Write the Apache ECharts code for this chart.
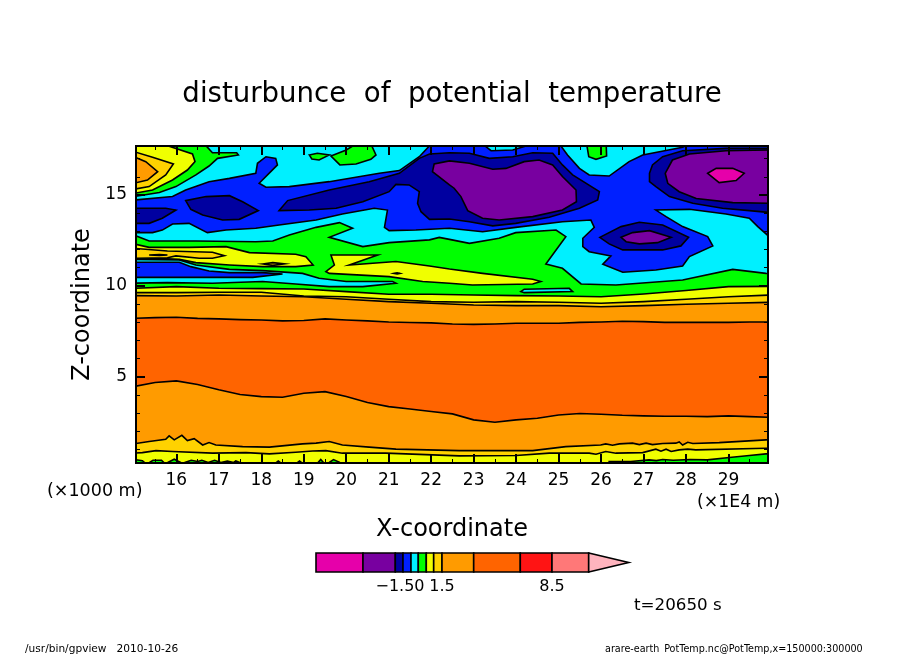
<!DOCTYPE html>
<html>
<head>
<meta charset="utf-8">
<title>disturbunce of potential temperature</title>
<style>
  html, body { margin: 0; padding: 0; background: #fff; }
  #chart { width: 904px; height: 654px; }
</style>
<script src="https://cdn.jsdelivr.net/npm/echarts@6/dist/echarts.min.js"></script>
</head>
<body>
<div id="chart"></div>
<script>
// axis ticks
var xMajor = [16, 17, 18, 19, 20, 21, 22, 23, 24, 25, 26, 27, 28, 29];
var xMinor = [15.5, 16.5, 17.5, 18.5, 19.5, 20.5, 21.5, 22.5, 23.5, 24.5, 25.5, 26.5, 27.5, 28.5, 29.5];
var zMajor = [5, 10, 15];
var zMinor = [1, 2, 3, 4, 6, 7, 8, 9, 11, 12, 13, 14, 16, 17];

// tone colours, low to high
var MAGENTA = '#e600aa', PURPLE = '#7800a0', NAVY = '#0000a0', BLUE = '#0020ff', CYAN = '#00f0ff', GREEN = '#00ff00';
var YELLOW = '#f0ff00', GOLD = '#ffd200', ORANGE = '#ff9b00', DEEP = '#ff6400', RED = '#ff1414', SALMON = '#ff7878', PINK = '#ffb4be';

// contour lines that cross the whole domain, z read at each x
var xWhole = [15, 16, 17, 18, 19, 20, 21, 22, 23, 24, 25, 26, 27, 28, 29, 30];
var yellowTop = [9.87, 9.96, 9.87, 9.85, 9.83, 9.69, 9.54, 9.54, 9.5, 9.47, 9.45, 9.41, 9.56, 9.75, 9.96, 9.98];
var goldTop = [9.63, 9.63, 9.65, 9.65, 9.45, 9.41, 9.27, 9.14, 9.1, 9.14, 9.1, 9.05, 9.14, 9.27, 9.41, 9.5];
var orangeTop = [9.47, 9.45, 9.5, 9.45, 9.41, 9.27, 9.14, 9.05, 8.95, 8.92, 8.92, 8.86, 8.92, 8.99, 9.05, 9.1];

var xHalf = [15, 15.5, 16, 16.5, 17, 17.5, 18, 18.5, 19, 19.5, 20, 20.5, 21, 21.5, 22, 22.5, 23, 23.5, 24, 24.5, 25, 25.5, 26, 26.5, 27, 27.5, 28, 28.5, 29, 29.5, 30];
var deepTop = [8.22, 8.26, 8.28, 8.22, 8.19, 8.15, 8.13, 8.08, 8.1, 8.19, 8.13, 8.08, 8.02, 7.99, 7.97, 7.91, 7.89, 7.91, 7.95, 7.95, 7.95, 8, 8.02, 8.06, 8.04, 8, 8, 8, 8, 8.02, 8.02];
var deepBottom = [4.47, 4.69, 4.78, 4.58, 4.29, 4.03, 3.92, 3.88, 4.1, 4.19, 3.92, 3.59, 3.37, 3.24, 3.1, 2.97, 2.64, 2.51, 2.64, 2.73, 2.91, 2.99, 2.95, 2.89, 2.86, 2.84, 2.84, 2.82, 2.86, 2.82, 2.78];

var orangeBottom = [[15, 1.32], [15.36, 1.45], [15.75, 1.57], [15.83, 1.76], [15.95, 1.54], [16.13, 1.79], [16.26, 1.5], [16.42, 1.61], [16.62, 1.26], [16.77, 1.39], [16.93, 1.26], [17.56, 1.17], [18.19, 1.14], [18.97, 1.32], [19.29, 1.36], [19.6, 1.45], [19.91, 1.26], [20.54, 1.14], [21.17, 1.03], [22.66, 0.95], [24.39, 0.95], [25.17, 1.17], [25.99, 1.26], [26.11, 1.32], [26.27, 1.25], [26.43, 1.32], [26.74, 1.36], [26.9, 1.28], [27.06, 1.36], [27.21, 1.28], [27.45, 1.34], [27.76, 1.36], [27.84, 1.43], [27.92, 1.26], [28.04, 1.41], [28.16, 1.34], [28.78, 1.39], [29.88, 1.54], [30, 1.55]];
var goldBottom = [[15, 0.81], [15.2, 0.84], [15.52, 0.95], [15.91, 0.9], [16.85, 0.81], [17.64, 0.84], [18.19, 0.77], [18.81, 0.86], [19.21, 0.93], [19.52, 0.95], [19.91, 0.81], [20.93, 0.81], [22.66, 0.66], [24, 0.68], [24.78, 0.81], [25.72, 0.81], [25.88, 0.75], [26.11, 0.9], [26.35, 0.81], [26.98, 0.84], [27.29, 1.03], [27.41, 0.92], [27.53, 1.03], [27.65, 0.9], [27.84, 0.99], [28.04, 1.03], [28.23, 0.99], [29.88, 1.08], [30, 1.08]];
var greenBottom = [[15, 0.2], [15.05, 0.45], [15.2, 0.4], [15.3, 0.2], [15.3, 0.2], [15.45, 0.42], [15.65, 0.42], [15.75, 0.2], [15.8, 0.3], [15.95, 0.48], [16.1, 0.3], [16.15, 0.2], [16.2, 0.3], [16.35, 0.42], [16.5, 0.35], [16.6, 0.42], [16.75, 0.3], [16.9, 0.42], [17.05, 0.3], [17.2, 0.38], [17.35, 0.3], [17.4, 0.38], [17.6, 0.2], [18.3, 0.2], [18.4, 0.38], [18.5, 0.2], [18.8, 0.2], [18.9, 0.38], [19, 0.2], [19.3, 0.2], [19.4, 0.46], [19.5, 0.2], [19.6, 0.3], [19.7, 0.46], [19.85, 0.3], [20, 0.2], [26.19, 0.2], [26.19, 0.35], [26.7, 0.35], [27.13, 0.44], [27.3, 0.4], [27.45, 0.46], [27.7, 0.42], [28.1, 0.46], [28.5, 0.44], [29.02, 0.57], [29.49, 0.68], [29.88, 0.77], [30, 0.77], [30, 0.2]];

// closed contours in the upper part, x then z
var blueMain = [[15, 14.72], [15.91, 14.91], [16.22, 15.27], [16.77, 15.73], [17.25, 15.91], [17.87, 16.19], [17.91, 16.74], [18.11, 17.1], [18.34, 17.01], [18.38, 16.65], [17.95, 15.64], [18.11, 15.42], [18.66, 15.46], [19.6, 15.73], [20.78, 16.19], [21.25, 16.34], [21.72, 17.1], [22, 17.8], [23.21, 17.8], [23.41, 17.43], [23.92, 17.47], [24.39, 17.8], [25.02, 17.8], [25.21, 17.2], [25.49, 16.46], [25.72, 16.1], [26.19, 16.04], [26.66, 16.83], [26.98, 17.2], [27.92, 17.62], [28.08, 17.8], [30, 17.8], [30, 12.62], [29.69, 13.26], [29.49, 13.72], [28.94, 13.95], [28.08, 14.21], [27.29, 14.17], [27.53, 13.81], [27.92, 13.26], [28.51, 12.71], [28.63, 12.2], [28.08, 11.61], [27.92, 11.1], [27.29, 10.88], [26.51, 10.75], [26.04, 11.19], [26.23, 11.65], [25.72, 11.88], [25.57, 12.16], [25.57, 12.62], [25.84, 13.22], [25.76, 13.62], [25.09, 13.53], [23.99, 13.22], [23.21, 12.98], [22.43, 13.17], [21.64, 13.07], [21.01, 13.04], [20.9, 13.22], [20.97, 14.17], [20.66, 14.27], [19.91, 13.95], [19.29, 13.62], [18.42, 13.35], [17.87, 13.17], [17.17, 13.07], [16.73, 12.93], [16.3, 13.44], [15.91, 13.4], [15.67, 13.07], [15.44, 12.93], [15, 12.93]];
var navyLeft = [[15, 14.27], [15.75, 14.27], [15.99, 14.17], [15.67, 13.72], [15.36, 13.44], [15, 13.44]];
var navyLens = [[16.22, 14.69], [16.7, 14.91], [17.25, 14.96], [17.56, 14.63], [17.93, 14.14], [17.48, 13.66], [17.09, 13.62], [16.62, 13.9], [16.34, 14.21]];
var navyMain = [[18.42, 14.14], [18.62, 14.69], [19.6, 15.27], [20.54, 15.73], [21.25, 16.19], [21.72, 17.01], [21.96, 17.25], [22.43, 17.32], [22.9, 17.29], [23.37, 17.01], [23.92, 17.1], [24.39, 17.32], [24.86, 17.29], [25.09, 16.65], [25.33, 16.1], [25.96, 15.18], [25.92, 14.72], [25.49, 14.27], [24.78, 13.77], [23.99, 13.44], [23.45, 13.3], [22.9, 13.53], [22.43, 13.68], [21.96, 13.66], [21.76, 14.08], [21.68, 14.54], [21.72, 15.18], [21.48, 15.55], [21.17, 15.58], [21.01, 15.18], [20.39, 14.63], [19.76, 14.27], [19.13, 14.17]];
var purpleMain = [[22.03, 16.28], [22.07, 16.7], [22.43, 16.87], [22.9, 16.74], [23.45, 16.41], [23.76, 16.46], [24.19, 16.83], [24.54, 16.92], [24.86, 16.65], [25.09, 16.01], [25.41, 15.27], [25.42, 14.63], [25.09, 14.17], [24.39, 13.81], [23.6, 13.62], [23.21, 13.72], [22.86, 14.14], [22.7, 14.91], [22.54, 15.37], [22.43, 15.55]];
var navyRight = [[27.14, 16.19], [27.21, 16.65], [27.45, 17.1], [27.92, 17.43], [28.94, 17.56], [30, 17.56], [30, 14.03], [29.49, 14.14], [28.86, 14.27], [28.16, 14.54], [27.61, 14.91], [27.29, 15.46], [27.14, 15.73]];
var purpleRight = [[27.51, 16.19], [27.68, 16.92], [28.08, 17.25], [28.94, 17.43], [30, 17.47], [30, 14.54], [29.1, 14.58], [28.24, 14.8], [27.84, 15.18], [27.57, 15.64]];
var magentaCore = [[28.51, 16.19], [28.71, 16.46], [29.1, 16.46], [29.37, 16.19], [29.18, 15.79], [28.78, 15.68]];
var navySmall = [[25.97, 12.67], [26.47, 13.26], [26.9, 13.5], [27.45, 13.35], [28.06, 12.67], [27.88, 12.2], [27.45, 11.98], [26.51, 11.98], [26.19, 12.31]];
var purpleSmall = [[26.47, 12.67], [26.74, 12.93], [27.14, 13.04], [27.65, 12.67], [27.33, 12.38], [26.9, 12.31], [26.59, 12.43]];

var greenCorner = [[15, 17.8], [16.66, 17.8], [16.85, 17.32], [17.42, 17.32], [17.46, 17.2], [16.97, 17.01], [16.77, 16.59], [16.46, 16.1], [15.99, 15.46], [15.6, 15.13], [15, 14.91]];
var yellowCorner = [[15, 17.8], [15.67, 17.8], [16.38, 17.25], [16.44, 16.83], [16.26, 16.37], [15.91, 15.82], [15.44, 15.27], [15, 15.09]];
var goldCorner = [[15, 17.38], [15.44, 17.07], [15.93, 16.7], [15.75, 16.1], [15.36, 15.46], [15, 15.31]];
var orangeCorner = [[15, 17.1], [15.28, 16.83], [15.56, 16.28], [15.32, 15.82], [15, 15.64]];
var greenPatchA = [[19.13, 17.2], [19.32, 17.29], [19.6, 17.2], [19.36, 16.92], [19.19, 16.98]];
var greenPatchB = [[19.64, 17.14], [20, 17.47], [20.23, 17.8], [20.58, 17.8], [20.7, 17.2], [20.58, 16.96], [20.23, 16.7], [19.85, 16.65]];
var greenPatchC = [[25.66, 17.8], [26.12, 17.8], [26.13, 17.14], [25.88, 16.96], [25.71, 17.1]];

var greenMiddle = [[15, 12.8], [15.36, 12.47], [16.46, 12.47], [17.87, 12.43], [18.27, 12.47], [18.66, 12.8], [19.29, 13.22], [19.84, 13.48], [20.15, 13.17], [19.6, 12.67], [20.39, 12.16], [21.01, 12.38], [21.96, 12.53], [22.19, 12.67], [22.43, 12.56], [22.9, 12.34], [23.6, 12.62], [23.99, 12.93], [24.94, 13.07], [25.17, 12.71], [24.94, 11.98], [24.7, 11.21], [25.09, 10.97], [25.53, 10.11], [26.35, 10.05], [27.92, 10.33], [29.1, 10.91], [29.88, 10.69], [30, 10.67], [30, 0], [15, 0]];
var yellowNose = [[15, 12.31], [15.36, 12.12], [16.3, 12.12], [17.17, 12.16], [17.72, 11.83], [18.81, 11.74], [19.05, 11.61], [19.22, 11.15], [18.81, 11.06], [18.03, 11.06], [17.25, 11.15], [16.46, 11.28], [16.07, 11.46], [15, 11.57]];
var goldNose = [[15, 12.07], [15.79, 11.92], [16.85, 11.85], [17.13, 11.66], [16.85, 11.52], [16.54, 11.52], [15.99, 11.65], [15.79, 11.55], [15, 11.52]];
var yellowRight = [[19.64, 11.7], [20.74, 11.7], [20.07, 11.15], [21.17, 11.34], [21.96, 11.1], [22.43, 10.93], [23.21, 10.69], [24.39, 10.37], [24.58, 10.24], [24.39, 10.11], [22.97, 10.05], [22.43, 10.15], [21.8, 10.24], [21.01, 10.51], [19.6, 10.69], [19.52, 10.79], [19.72, 11.15]];
var goldSpeckA = [[18.03, 11.21], [18.27, 11.28], [18.54, 11.21], [18.27, 11.13]];
var goldSpeckB = [[21.13, 10.69], [21.2, 10.72], [21.26, 10.69], [21.2, 10.66]];
var goldSpeckC = [[15.36, 11.7], [15.6, 11.73], [15.79, 11.7], [15.6, 11.67]];
var cyanSliver = [[24.11, 9.69], [24.19, 9.82], [25.25, 9.87], [25.33, 9.69], [24.19, 9.63]];
var cyanTongue = [[15, 11.46], [16.07, 11.43], [16.46, 11.15], [17.25, 10.91], [18.03, 10.84], [18.97, 10.69], [19.36, 10.42], [20, 10.24], [21.09, 10.24], [21.17, 10.15], [20.39, 9.96], [19.6, 9.96], [18.81, 10.11], [18.03, 10.24], [16.85, 10.15], [15.79, 10.18], [15, 10.15]];
var blueLow = [[15, 11.3], [16.07, 11.3], [16.34, 11.06], [16.77, 10.82], [17.25, 10.73], [18.03, 10.73], [18.5, 10.66], [17.8, 10.47], [15, 10.47]];

// colour bar
var barEdges = [0, 47, 79.3, 87, 95, 102.3, 110.3, 117.7, 126, 157.7, 204.3, 236, 272.7];
var barTip = 312.7;
var barColors = [MAGENTA, PURPLE, NAVY, BLUE, CYAN, GREEN, YELLOW, GOLD, ORANGE, DEEP, RED, SALMON];
var barTicks = [84, 126, 236];
var barLabels = ['−1.50', '1.5', '8.5'];

function closeBelow(xs, zs) {
  var pts = xs.map(function(x, i) {
    return [x, zs[i]];
  });
  pts.push([30, 0], [15, 0]);
  return pts;
}

function closeBelowPairs(pts) {
  return pts.concat([[30, 0], [15, 0]]);
}

// painted in this order, later ones cover earlier ones
var regions = [
  { color: CYAN, pts: [[15, 0], [30, 0], [30, 17.8], [15, 17.8]] },
  { color: BLUE, pts: blueMain },
  { color: NAVY, pts: navyLeft },
  { color: NAVY, pts: navyLens },
  { color: NAVY, pts: navyMain },
  { color: PURPLE, pts: purpleMain },
  { color: NAVY, pts: navyRight },
  { color: PURPLE, pts: purpleRight },
  { color: MAGENTA, pts: magentaCore },
  { color: NAVY, pts: navySmall },
  { color: PURPLE, pts: purpleSmall },
  { color: GREEN, pts: greenCorner },
  { color: YELLOW, pts: yellowCorner },
  { color: GOLD, pts: goldCorner },
  { color: ORANGE, pts: orangeCorner },
  { color: GREEN, pts: greenPatchA },
  { color: GREEN, pts: greenPatchB },
  { color: GREEN, pts: greenPatchC },
  { color: GREEN, pts: greenMiddle },
  { color: YELLOW, pts: yellowNose },
  { color: GOLD, pts: goldNose },
  { color: GOLD, pts: goldSpeckC },
  { color: YELLOW, pts: yellowRight },
  { color: GOLD, pts: goldSpeckA },
  { color: GOLD, pts: goldSpeckB },
  { color: CYAN, pts: cyanSliver },
  { color: CYAN, pts: cyanTongue },
  { color: BLUE, pts: blueLow },
  { color: YELLOW, pts: closeBelow(xWhole, yellowTop) },
  { color: GOLD, pts: closeBelow(xWhole, goldTop) },
  { color: ORANGE, pts: closeBelow(xWhole, orangeTop) },
  { color: DEEP, pts: closeBelow(xHalf, deepTop) },
  { color: ORANGE, pts: closeBelow(xHalf, deepBottom) },
  { color: GOLD, pts: closeBelowPairs(orangeBottom) },
  { color: YELLOW, pts: closeBelowPairs(goldBottom) },
  { color: GREEN, pts: greenBottom }
];

var FONT = '"DejaVu Sans"';

function plotAxis(position, ticks, labels, len, width, min, max, extra) {
  var axis = {
    type: 'value',
    gridIndex: 0,
    position: position,
    min: min,
    max: max,
    z: 10,
    splitLine: { show: false },
    axisLine: { show: true, onZero: false, lineStyle: { color: '#000', width: 2 } },
    axisTick: { show: true, inside: true, length: len, customValues: ticks, lineStyle: { color: '#000', width: width } },
    axisLabel: labels ? {
      show: true,
      customValues: ticks,
      margin: 9,
      color: '#000',
      fontFamily: FONT,
      fontSize: 17,
      padding: position === 'left' ? [4, 0, 0, 0] : 0
    } : { show: false }
  };
  return Object.assign(axis, extra || {});
}

var X_MIN = 15.05, X_MAX = 29.93, Z_MIN = 0.27, Z_MAX = 17.69;

var option = {
  animation: false,
  backgroundColor: '#fff',
  title: {
    text: 'disturbunce  of  potential  temperature',
    left: 'center',
    top: 76,
    textStyle: { fontFamily: FONT, fontWeight: 'normal', fontSize: 27.6, color: '#000' }
  },
  grid: [
    { left: 136, top: 146, width: 632, height: 317 },
    { left: 316, top: 553, width: 312.7, height: 19 }
  ],
  xAxis: [
    plotAxis('bottom', xMajor, true, 9, 2, X_MIN, X_MAX, {
      name: 'X-coordinate',
      nameLocation: 'middle',
      nameGap: 55,
      nameTextStyle: { fontFamily: FONT, fontSize: 24, color: '#000' }
    }),
    plotAxis('bottom', xMinor, false, 4, 1, X_MIN, X_MAX),
    plotAxis('top', xMajor, false, 9, 2, X_MIN, X_MAX),
    plotAxis('top', xMinor, false, 4, 1, X_MIN, X_MAX),
    {
      type: 'value',
      gridIndex: 1,
      min: 0,
      max: barTip,
      splitLine: { show: false },
      axisLine: { show: false },
      axisTick: { show: false },
      axisLabel: {
        customValues: barTicks,
        margin: 7,
        color: '#000',
        fontFamily: FONT,
        fontSize: 16,
        formatter: function(v) {
          return barLabels[barTicks.indexOf(v)];
        }
      }
    }
  ],
  yAxis: [
    plotAxis('left', zMajor, true, 9, 2, Z_MIN, Z_MAX, {
      name: 'Z-coordinate',
      nameLocation: 'middle',
      nameGap: 40,
      nameTextStyle: { fontFamily: FONT, fontSize: 24, color: '#000' }
    }),
    plotAxis('left', zMinor, false, 4, 1, Z_MIN, Z_MAX),
    plotAxis('right', zMajor, false, 9, 2, Z_MIN, Z_MAX),
    plotAxis('right', zMinor, false, 4, 1, Z_MIN, Z_MAX),
    {
      type: 'value',
      gridIndex: 1,
      min: 0,
      max: 1,
      show: false
    }
  ],
  graphic: [
    { type: 'text', left: 47, top: 482, style: { text: '(×1000 m)', font: '17.5px ' + FONT, fill: '#000' } },
    { type: 'text', left: 697, top: 494, style: { text: '(×1E4 m)', font: '17.3px ' + FONT, fill: '#000' } },
    { type: 'text', left: 634, top: 597, style: { text: 't=20650 s', font: '16.7px ' + FONT, fill: '#000' } },
    { type: 'text', left: 25, top: 644, style: { text: '/usr/bin/gpview   2010-10-26', font: '10.6px ' + FONT, fill: '#000' } },
    { type: 'text', left: 605, top: 644, style: { text: 'arare-earth_PotTemp.nc@PotTemp,x=150000:300000', font: '9.6px ' + FONT, fill: '#000' } }
  ],
  series: [
    {
      type: 'custom',
      xAxisIndex: 0,
      yAxisIndex: 0,
      clip: true,
      silent: true,
      z: 1,
      data: regions.map(function(r, i) {
        return [i];
      }),
      encode: { x: -1, y: -1 },
      renderItem: function(params, api) {
        var r = regions[params.dataIndex];
        return {
          type: 'polygon',
          shape: {
            points: r.pts.map(function(p) {
              return api.coord(p);
            })
          },
          style: { fill: r.color, stroke: '#000', lineWidth: 1.6 }
        };
      }
    },
    {
      type: 'custom',
      xAxisIndex: 4,
      yAxisIndex: 4,
      silent: true,
      data: barColors.map(function(c, i) {
        return [i];
      }).concat([[barColors.length]]),
      encode: { x: -1, y: -1 },
      renderItem: function(params, api) {
        var i = params.dataIndex;
        var pts;
        if (i < barColors.length) {
          pts = [[barEdges[i], 0], [barEdges[i + 1], 0], [barEdges[i + 1], 1], [barEdges[i], 1]];
        } else {
          pts = [[barEdges[i], 0], [barTip, 0.5], [barEdges[i], 1]];
        }
        return {
          type: 'polygon',
          shape: {
            points: pts.map(function(p) {
              return api.coord(p);
            })
          },
          style: { fill: i < barColors.length ? barColors[i] : PINK, stroke: '#000', lineWidth: 1.6 }
        };
      }
    }
  ]
};

var chart = echarts.init(document.getElementById('chart'), null, { renderer: 'canvas' });
chart.setOption(option);
</script>
</body>
</html>
